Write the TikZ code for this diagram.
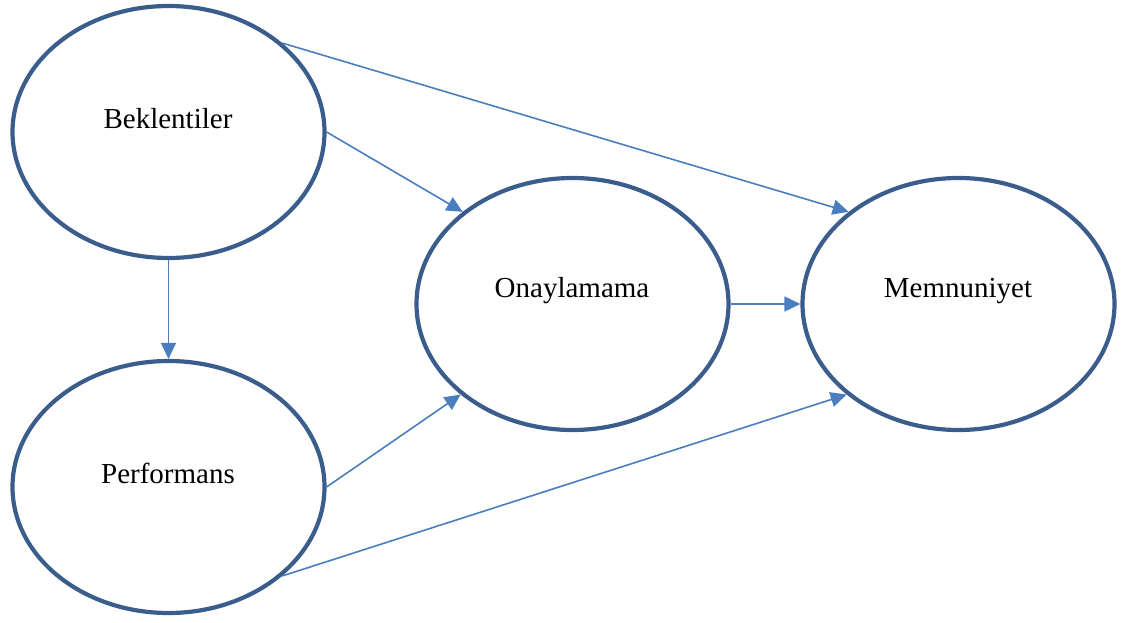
\documentclass[tikz,border=0pt]{standalone}
\usepackage{fontspec}
\setmainfont{Liberation Serif}
\usetikzlibrary{shapes.geometric,arrows.meta}
\definecolor{rim}{HTML}{3A5D8C}
\definecolor{link}{HTML}{4A7EBE}
\begin{document}
\begin{tikzpicture}[x=1pt,y=-1pt,
  construct/.style={ellipse,draw=rim,line width=4.2pt,minimum width=312pt,minimum height=252pt,inner sep=0pt},
  caption/.style={font=\fontsize{29}{32}\selectfont,text=black},
  path/.style={draw=link,line width=1.6pt,-{Triangle[length=16pt,width=15pt]}}]
\useasboundingbox (0,0) rectangle (1133,623);
% latent constructs
\node[construct] (bek) at (168.5,132) {};
\node[construct] (per) at (168.5,487) {};
\node[construct] (ona) at (572.5,304) {};
\node[construct] (mem) at (958.5,304) {};
% construct names
\node[caption] at (168,119) {Beklentiler};
\node[caption] at (168,473) {Performans};
\node[caption] at (572,291) {Onaylamama};
\node[caption] at (958,291) {Memnuniyet};
% hypothesised paths
\draw[path] (bek.south) -- (per.north);
\draw[path] (bek.east) -- (ona.140.6);
\draw[path] (bek.38) -- (mem.140.4);
\draw[path] (ona.east) -- (mem.west);
\draw[path] (per.east) -- (ona.219.4);
\draw[path] (per.322) -- (mem.219.5);
\end{tikzpicture}
\end{document}
